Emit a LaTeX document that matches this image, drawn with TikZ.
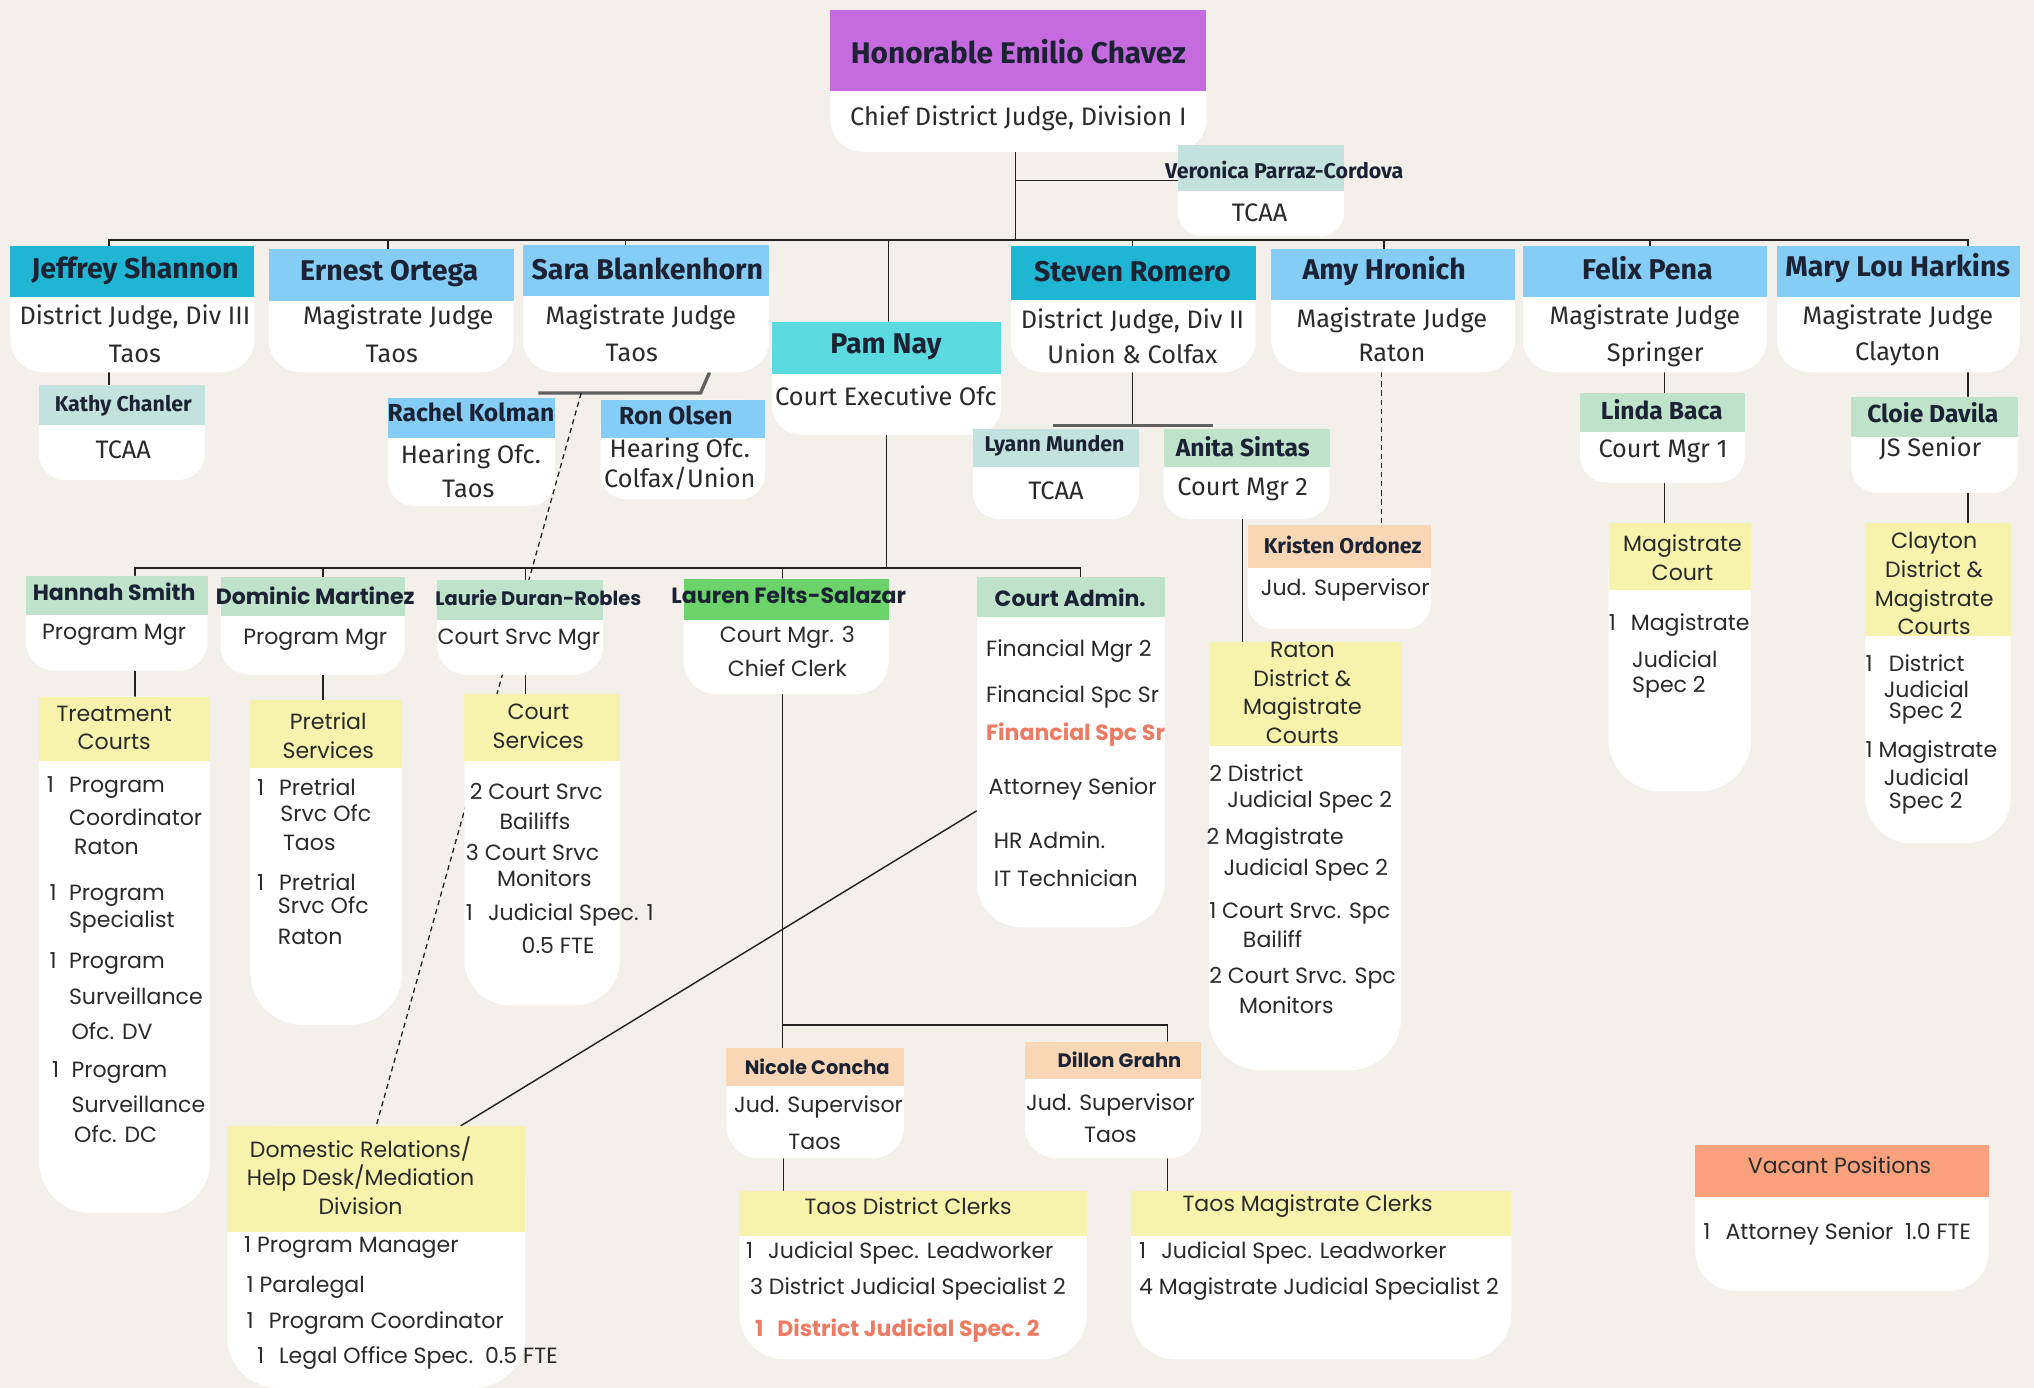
\documentclass[tikz,border=0pt]{standalone}
\usepackage{fontspec}
\setmainfont{Poppins}
\newfontfamily\cf{Fira Sans}
\pgfdeclarelayer{back}
\pgfdeclarelayer{lines}
\pgfsetlayers{back,lines,main}
\definecolor{bg}{HTML}{F3F0EB}
\definecolor{cpurple}{HTML}{C66ADF}
\definecolor{cdteal}{HTML}{1FB6D4}
\definecolor{clblue}{HTML}{85CCF6}
\definecolor{ccyan}{HTML}{5BDAE0}
\definecolor{clteal}{HTML}{C3E2DD}
\definecolor{clgreen}{HTML}{BEE3CA}
\definecolor{cbgreen}{HTML}{6CD36A}
\definecolor{cyellow}{HTML}{F7F2AC}
\definecolor{cpeach}{HTML}{F8D6B6}
\definecolor{cvac}{HTML}{F8A17C}
\definecolor{csalmon}{HTML}{EC7B64}
\definecolor{ink}{HTML}{1A2233}
\definecolor{ink2}{HTML}{2A2A2A}
\definecolor{lk}{HTML}{222222}
\newcounter{tn}
\newcommand\tx[3][]{\stepcounter{tn}\node[#1] (t\arabic{tn}) at (#2) {#3};}
\newcommand\card[8]{%
 \node[bd, rounded corners=#8pt, minimum width={(#4-#2)*1pt}, minimum height={(#6-#3)*1pt}] (#1b) at (#2,#3) {};
 \fill[white] (#2,#3) rectangle (#4,#3+#8);
 \node[hd, fill=#7, minimum width={(#4-#2)*1pt}, minimum height={(#5-#3)*1pt}] (#1) at (#2,#3) {};
}
\tikzset{
 hd/.style={rectangle, anchor=north west, inner sep=0pt, outer sep=0pt, draw=none},
 bd/.style={rectangle, anchor=north west, inner sep=0pt, outer sep=0pt, fill=white},
 L/.style={anchor=west},
 ln/.style={draw=lk, line width=1.1pt},
 lng/.style={draw=gray!75!black, line width=2.6pt},
 dsh/.style={draw=lk, line width=1pt, dash pattern=on 4pt off 3pt},
 n0/.style={font=\cf\bfseries\fontsize{23}{26}\selectfont, text=ink, inner sep=0pt},
 n1/.style={font=\cf\bfseries\fontsize{22}{25}\selectfont, text=ink, inner sep=0pt},
 n1m/.style={font=\cf\bfseries\fontsize{19}{22}\selectfont, text=ink, inner sep=0pt},
 n1s/.style={font=\cf\bfseries\fontsize{16.5}{19}\selectfont, text=ink, inner sep=0pt},
 s1/.style={font=\cf\fontsize{19.5}{22}\selectfont, text=ink2, inner sep=0pt},
 n2/.style={font=\bfseries\fontsize{17}{20}\selectfont, text=ink, inner sep=0pt},
 n2s/.style={font=\bfseries\fontsize{15}{18}\selectfont, text=ink, inner sep=0pt},
 s2/.style={font=\fontsize{17}{21}\selectfont, text=ink2, inner sep=0pt},
 s2b/.style={font=\bfseries\fontsize{17}{21}\selectfont, text=csalmon, inner sep=0pt},
 yh/.style={font=\fontsize{17}{22}\selectfont, text=ink2, inner sep=0pt, align=center},
}
\begin{document}
\begin{tikzpicture}[x=1pt,y=-1pt]
\begin{pgfonlayer}{back}
\fill[bg] (0,0) rectangle (1568,1070);
\end{pgfonlayer}
\useasboundingbox (0,0) rectangle (1568,1070);

% ---------------- cards ----------------
\card{chavez}{640}{8}{930}{70}{117}{cpurple}{25}
\card{veronica}{908}{112}{1036}{147}{182}{clteal}{18}
\card{jeff}{8}{190}{196}{229}{287}{cdteal}{25}
\card{ernest}{207}{192}{396}{232}{287}{clblue}{25}
\card{sara}{403}{189}{593}{228}{287}{clblue}{25}
\card{pam}{595}{248}{772}{288}{335}{ccyan}{22}
\card{steven}{779}{190}{968}{231}{287}{cdteal}{25}
\card{amy}{980}{192}{1168}{231}{287}{clblue}{25}
\card{felix}{1174}{190}{1362}{229}{287}{clblue}{25}
\card{mary}{1370}{190}{1557}{229}{287}{clblue}{25}
\card{kathy}{30}{297}{158}{328}{370}{clteal}{20}
\card{rachel}{299}{307}{428}{338}{390}{clblue}{20}
\card{ron}{463}{308}{590}{338}{385}{clblue}{20}
\card{lyann}{750}{331}{878}{360}{400}{clteal}{20}
\card{anita}{897}{331}{1025}{360}{400}{clgreen}{20}
\card{kristen}{962}{405}{1103}{438}{485}{cpeach}{20}
\card{linda}{1218}{303}{1345}{333}{372}{clgreen}{20}
\card{cloie}{1427}{306}{1556}{337}{380}{clgreen}{20}
\card{hannah}{20}{444}{160}{474}{517}{clgreen}{22}
\card{dominic}{170}{445}{312}{475}{520}{clgreen}{22}
\card{laurie}{337}{447}{465}{478}{520}{clgreen}{22}
\card{lauren}{527}{446}{685}{478}{535}{cbgreen}{25}
\card{admin}{753}{445}{898}{476}{715}{clgreen}{35}
\card{treat}{30}{537}{162}{587}{935}{cyellow}{40}
\card{pretrial}{193}{540}{310}{592}{790}{cyellow}{40}
\card{csrv}{358}{535}{478}{587}{775}{cyellow}{35}
\card{raton}{932}{495}{1080}{575}{825}{cyellow}{40}
\card{magc}{1240}{403}{1350}{455}{610}{cyellow}{40}
\card{clayton}{1438}{403}{1550}{490}{650}{cyellow}{35}
\card{domestic}{175}{868}{405}{950}{1070}{cyellow}{40}
\card{nicole}{560}{808}{697}{837}{893}{cpeach}{25}
\card{dillon}{790}{803}{926}{832}{893}{cpeach}{25}
\card{tdc}{570}{918}{838}{953}{1048}{cyellow}{35}
\card{tmc}{872}{918}{1165}{953}{1048}{cyellow}{35}
\card{vacant}{1307}{883}{1533}{923}{995}{cvac}{30}

% ---------------- connectors ----------------
\begin{pgfonlayer}{lines}
\coordinate (b1L) at (84,185);
\coordinate (b1R) at (1517,185);
\coordinate (vj) at (783,139);
\draw[ln] (chavezb.south -| vj) -- (vj |- b1L);
\draw[ln] (vj) -- (vj -| veronica.west);
\draw[ln] (jeff.north -| b1L) -- (b1L) -- (b1R) -- (mary.north -| b1R);
\foreach \n/\x in {ernest/299, sara/482, pam/685, steven/873, amy/1067, felix/1272}
  \draw[ln] (\x,185) -- (\n.north -| \x,0);
\draw[ln] (jeffb.south -| 84,0) -- (kathy.north -| 84,0);
\coordinate (sj) at (540,303);
\coordinate (sjl) at (415,303);
\draw[lng] (sarab.south -| 547,0) -- (sj) -- (sjl);
\draw[dsh] (448,303) -- (domestic.north -| 290,0);
\coordinate (b2L) at (104,438);
\coordinate (b2R) at (833,438);
\draw[ln] (pamb.south) -- (pamb.south |- b2L);
\draw[ln] (hannah.north -| b2L) -- (b2L) -- (b2R) -- (admin.north -| b2R);
\foreach \n/\x in {dominic/249, laurie/405, lauren/603}
  \draw[ln] (\x,438) -- (\n.north -| \x,0);
\draw[ln] (hannahb.south -| 104,0) -- (treat.north -| 104,0);
\draw[ln] (dominicb.south -| 249,0) -- (pretrial.north -| 249,0);
\draw[ln] (laurieb.south -| 405,0) -- (csrv.north -| 405,0);
\coordinate (b3) at (603,790);
\draw[ln] (laurenb.south -| b3) -- (nicole.north -| b3);
\draw[ln] (b3) -- (900,790) -- (dillon.north -| 900,0);
\draw[ln] (nicoleb.south -| 604,0) -- (tdc.north -| 604,0);
\draw[ln] (dillonb.south -| 900,0) -- (tmc.north -| 900,0);
\coordinate (sr) at (873,328);
\draw[ln] (stevenb.south -| sr) -- (sr);
\draw[lng] (812,328) -- (935,328);
\draw[ln] (anitab.south -| 958,0) -- (raton.north -| 958,0);
\draw[dsh] (amyb.south -| 1065,0) -- (kristen.north -| 1065,0);
\draw[ln] (felixb.south -| 1283,0) -- (linda.north -| 1283,0);
\draw[ln] (lindab.south -| 1283,0) -- (magc.north -| 1283,0);
\draw[ln] (maryb.south -| 1517,0) -- (cloie.north -| 1517,0);
\draw[ln] (cloieb.south -| 1517,0) -- (clayton.north -| 1517,0);
\draw[ln] (adminb.west |- 0,625) -- (domestic.north -| 355,0);
\end{pgfonlayer}

% ---------------- texts: top ----------------
\tx[n0]{785,40}{Honorable Emilio Chavez}
\tx[s1]{785,91}{Chief District Judge, Division I}
\tx[n1s]{990,131}{Veronica Parraz-Cordova}
\tx[s1]{971,164}{TCAA}
\tx[n1]{104,209}{Jeffrey Shannon}
\tx[s1]{104,245}{District Judge, Div III}
\tx[s1]{104,273}{Taos}
\tx[n1]{300,211}{Ernest Ortega}
\tx[s1]{307,245}{Magistrate Judge}
\tx[s1]{302,273}{Taos}
\tx[n1]{499,207}{Sara Blankenhorn}
\tx[s1]{494,245}{Magistrate Judge}
\tx[s1]{487,272}{Taos}
\tx[n1]{683,267}{Pam Nay}
\tx[s1]{683,305}{Court Executive Ofc}
\tx[n1]{873,209}{Steven Romero}
\tx[s1]{873,248}{District Judge, Div II}
\tx[s1]{873,273}{Union \& Colfax}
\tx[n1]{1067,209}{Amy Hronich}
\tx[s1]{1073,247}{Magistrate Judge}
\tx[s1]{1073,272}{Raton}
\tx[n1]{1270,207}{Felix Pena}
\tx[s1]{1268,245}{Magistrate Judge}
\tx[s1]{1276,273}{Springer}
\tx[n1]{1463,207}{Mary Lou Harkins}
\tx[s1]{1463,245}{Magistrate Judge}
\tx[s1]{1463,273}{Clayton}
% third level
\tx[n1s]{95,313}{Kathy Chanler}
\tx[s1]{95,347}{TCAA}
\tx[n1m]{363,318}{Rachel Kolman}
\tx[s1]{363,352}{Hearing Ofc.}
\tx[s1]{361,377}{Taos}
\tx[n1m]{521,320}{Ron Olsen}
\tx[s1]{524,347}{Hearing Ofc.}
\tx[s1]{524,369}{Colfax/Union}
\tx[n1s]{813,344}{Lyann Munden}
\tx[s1]{814,378}{TCAA}
\tx[n1m]{958,344}{Anita Sintas}
\tx[s1]{958,377}{Court Mgr 2}
\tx[n1s]{1035,420}{Kristen Ordonez}
\tx[s2]{1037,455}{Jud. Supervisor}
\tx[n1m]{1281,316}{Linda Baca}
\tx[s1]{1282,348}{Court Mgr 1}
\tx[n1m]{1490,318}{Cloie Davila}
\tx[s1]{1488,346}{JS Senior}
% second level
\tx[n2]{88,456}{Hannah Smith}
\tx[s2]{88,489}{Program Mgr}
\tx[n2]{243,459}{Dominic Martinez}
\tx[s2]{243,493}{Program Mgr}
\tx[n2s]{415,461}{Laurie Duran-Robles}
\tx[s2]{400,493}{Court Srvc Mgr}
\tx[n2]{608,459}{Lauren Felts-Salazar}
\tx[s2]{607,491}{Court Mgr. 3}
\tx[s2]{607,515}{Chief Clerk}
\tx[n2]{825,461}{Court Admin.}
\tx[s2,L]{760,502}{Financial Mgr 2}
\tx[s2,L]{760,537}{Financial Spc Sr}
\tx[s2b,L]{760,566}{Financial Spc Sr}
\tx[s2,L]{762,608}{Attorney Senior}
\tx[s2,L]{766,648}{HR Admin.}
\tx[s2,L]{766,677}{IT Technician}
% treatment
\tx[yh]{88,561}{Treatment\\Courts}
\tx[s2,L]{36,607}{\makebox[17pt][l]{1}Program}
\tx[s2,L]{53,630}{Coordinator}
\tx[s2,L]{57,653}{Raton}
\tx[s2,L]{38,690}{\makebox[15pt][l]{1}Program}
\tx[s2,L]{53,711}{Specialist}
\tx[s2,L]{38,743}{\makebox[15pt][l]{1}Program}
\tx[s2,L]{53,768}{Surveillance}
\tx[s2,L]{55,795}{Ofc. DV}
\tx[s2,L]{40,827}{\makebox[15pt][l]{1}Program}
\tx[s2,L]{55,851}{Surveillance}
\tx[s2,L]{57,874}{Ofc. DC}
% pretrial
\tx[yh]{253,567}{Pretrial\\Services}
\tx[s2,L]{198,607}{\makebox[17pt][l]{1}Pretrial}
\tx[s2,L]{216,627}{Srvc Ofc}
\tx[s2,L]{218,650}{Taos}
\tx[s2,L]{198,680}{\makebox[17pt][l]{1}Pretrial}
\tx[s2,L]{214,698}{Srvc Ofc}
\tx[s2,L]{214,722}{Raton}
% court services
\tx[yh]{415,560}{Court\\Services}
\tx[s2,L]{362,610}{2 Court Srvc}
\tx[s2,L]{385,633}{Bailiffs}
\tx[s2,L]{359,657}{3 Court Srvc}
\tx[s2,L]{383,677}{Monitors}
\tx[s2,L]{359,705}{\makebox[17pt][l]{1}Judicial Spec. 1}
\tx[s2,L]{402,729}{0.5 FTE}
% raton
\tx[yh]{1004,534}{Raton\\District \&\\Magistrate\\Courts}
\tx[s2,L]{932,596}{2 District}
\tx[s2,L]{946,618}{Judicial Spec 2}
\tx[s2,L]{930,647}{2 Magistrate}
\tx[s2,L]{943,671}{Judicial Spec 2}
\tx[s2,L]{932,704}{1 Court Srvc. Spc}
\tx[s2,L]{958,724}{Bailiff}
\tx[s2,L]{932,754}{2 Court Srvc. Spc}
\tx[s2,L]{955,775}{Monitors}
% magistrate court
\tx[yh]{1297,430}{Magistrate\\Court}
\tx[s2,L]{1240,482}{\makebox[17pt][l]{1}Magistrate}
\tx[s2,L]{1258,508}{Judicial}
\tx[s2,L]{1258,530}{Spec 2}
% clayton
\tx[yh]{1491,450}{Clayton\\District \&\\Magistrate\\Courts}
\tx[s2,L]{1438,511}{\makebox[18pt][l]{1}District}
\tx[s2,L]{1452,531}{Judicial}
\tx[s2,L]{1456,550}{Spec 2}
\tx[s2,L]{1438,580}{1 Magistrate}
\tx[s2,L]{1452,599}{Judicial}
\tx[s2,L]{1456,619}{Spec 2}
% domestic
\tx[yh]{278,906}{Domestic Relations/\\Help Desk/Mediation\\Division}
\tx[s2,L]{188,962}{1 Program Manager}
\tx[s2,L]{190,992}{1 Paralegal}
\tx[s2,L]{190,1020}{\makebox[17pt][l]{1}Program Coordinator}
\tx[s2,L]{198,1047}{\makebox[17pt][l]{1}Legal Office Spec.\ \ 0.5 FTE}
% supervisors
\tx[n2s]{630,822}{Nicole Concha}
\tx[s2]{631,853}{Jud. Supervisor}
\tx[s2]{628,880}{Taos}
\tx[n2s]{863,817}{Dillon Grahn}
\tx[s2]{856,852}{Jud. Supervisor}
\tx[s2]{856,875}{Taos}
% clerks
\tx[yh]{700,930}{Taos District Clerks}
\tx[s2,L]{575,966}{\makebox[17pt][l]{1}Judicial Spec. Leadworker}
\tx[s2,L]{578,994}{3 District Judicial Specialist 2}
\tx[s2b,L]{582,1026}{\makebox[17pt][l]{1}District Judicial Spec. 2}
\tx[yh]{1008,930}{Taos Magistrate Clerks}
\tx[s2,L]{878,966}{\makebox[17pt][l]{1}Judicial Spec. Leadworker}
\tx[s2,L]{878,994}{4 Magistrate Judicial Specialist 2}
% vacant
\tx[yh]{1418,898}{Vacant Positions}
\tx[s2,L]{1313,951}{\makebox[17pt][l]{1}Attorney Senior\ \ 1.0 FTE}
\end{tikzpicture}
\end{document}
